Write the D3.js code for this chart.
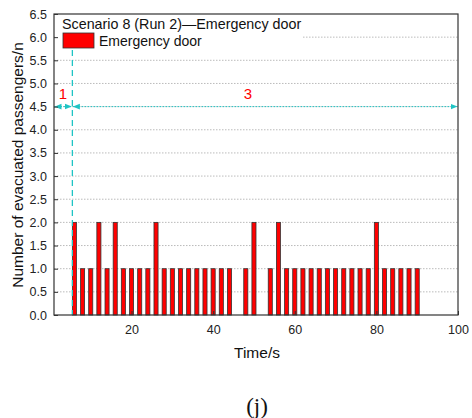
<!DOCTYPE html>
<html><head><meta charset="utf-8">
<script src="https://cdn.jsdelivr.net/npm/d3@7"></script>
<style>body{margin:0;background:#fff}svg{display:block}text{font-family:Arial,"Liberation Sans",sans-serif}</style>
</head><body><svg id="c" width="472" height="418"></svg>
<script>
const times = [6,8,10,12,14,16,18,20,22,24,26,28,30,32,34,36,38,40,42,44,48,50,54,56,58,60,62,64,66,68,70,72,74,76,78,80,82,84,86,88,90];
const counts = [2,1,1,2,1,2,1,1,1,1,2,1,1,1,1,1,1,1,1,1,1,2,1,2,1,1,1,1,1,1,1,1,1,1,1,2,1,1,1,1,1];
const xTicks = [20,40,60,80,100];
const yTicks = [0,0.5,1,1.5,2,2.5,3,3.5,4,4.5,5,5.5,6,6.5];
const phaseSplit = 5.5;   // vertical dashed divider (Time/s)
const phaseLevel = 4.5;   // horizontal arrow level
const phaseLabels = ["1","3"];

const svg = d3.select("#c");
const L=54,R=458,T=14,B=315;
const x = d3.scaleLinear().domain([1,100]).range([L,R]);
const y = d3.scaleLinear().domain([0,6.5]).range([B,T]);

// grid
svg.append("g").selectAll("line").data(yTicks.filter(d=>d>0&&d<6.5)).join("line")
  .attr("x1",L).attr("x2",R).attr("y1",d=>y(d)).attr("y2",d=>y(d))
  .attr("stroke","#aaa").attr("stroke-width",0.8).attr("stroke-dasharray","1.5,1.5");

// bars
const bw = x(2)-x(1);
svg.append("g").selectAll("rect").data(times).join("rect")
  .attr("x",(d)=>x(d)-bw/2).attr("width",bw)
  .attr("y",(d,i)=>y(counts[i])).attr("height",(d,i)=>y(0)-y(counts[i]))
  .attr("fill","#ff0000").attr("stroke","#333").attr("stroke-width",0.8);

// legend background
svg.append("rect").attr("x",L+1).attr("y",T+1).attr("width",302-L).attr("height",34).attr("fill","#fff");
svg.append("text").attr("x",62).attr("y",29).attr("font-size",14.3).attr("fill","#111").text("Scenario 8 (Run 2)\u2014Emergency door");
svg.append("rect").attr("x",63).attr("y",33).attr("width",31).attr("height",15).attr("fill","#ff0000").attr("stroke","#333").attr("stroke-width",0.8);
svg.append("text").attr("x",99).attr("y",46).attr("font-size",14).attr("fill","#111").text("Emergency door");

// cyan annotations
const cy = "#1fc4c4";
const defs = svg.append("defs");
defs.append("marker").attr("id","ah").attr("viewBox","0 0 10 10").attr("refX",10).attr("refY",5)
  .attr("markerWidth",7).attr("markerHeight",7).attr("orient","auto-start-reverse")
  .append("path").attr("d","M0,1 L10,5 L0,9 Z").attr("fill",cy);
svg.append("line").attr("x1",x(phaseSplit)).attr("x2",x(phaseSplit)).attr("y1",50).attr("y2",B)
  .attr("stroke",cy).attr("stroke-width",1.3).attr("stroke-dasharray","6,4");
const segs = [[1,phaseSplit],[phaseSplit,100]];
svg.append("g").selectAll("line").data(segs).join("line")
  .attr("x1",d=>x(d[0])+0.5).attr("x2",d=>x(d[1])-0.5).attr("y1",y(phaseLevel)).attr("y2",y(phaseLevel))
  .attr("stroke",cy).attr("stroke-width",1).attr("stroke-dasharray","1.5,1.5")
  .attr("marker-start","url(#ah)").attr("marker-end","url(#ah)");
svg.append("g").selectAll("text").data(segs).join("text")
  .attr("x",(d,i)=> i===0 ? x(d[0])+9 : x(d[0])+0.455*(x(d[1])-x(d[0])))
  .attr("y",y(phaseLevel)-8)
  .attr("text-anchor","middle").attr("font-size",15).attr("fill","#ff0000")
  .text((d,i)=>phaseLabels[i]);

// axes
const xa = svg.append("g").attr("transform",`translate(0,${B})`)
  .call(d3.axisBottom(x).tickValues(xTicks).tickSize(-4).tickPadding(10));
const ya = svg.append("g").attr("transform",`translate(${L},0)`)
  .call(d3.axisLeft(y).tickValues(yTicks).tickSize(-4).tickPadding(7).tickFormat(d3.format(".1f")));
[xa,ya].forEach(a=>{a.select(".domain").remove();a.selectAll("line").attr("stroke","#333");
  a.selectAll("text").attr("font-size",12.5).attr("fill","#222").style("font-family","Arial,'Liberation Sans',sans-serif");});
svg.append("rect").attr("x",L).attr("y",T).attr("width",R-L).attr("height",B-T)
  .attr("fill","none").attr("stroke","#333").attr("stroke-width",1.2);

svg.append("text").attr("x",257).attr("y",358).attr("text-anchor","middle").attr("font-size",15.5).attr("fill","#111").text("Time/s");
svg.append("text").attr("transform","translate(23,165) rotate(-90)").attr("text-anchor","middle").attr("font-size",15.5).attr("fill","#111").text("Number of evacuated passengers/n");
svg.append("text").attr("x",257).attr("y",414).attr("text-anchor","middle").attr("font-size",23)
  .style("font-family","'Liberation Serif','Times New Roman',serif").attr("fill","#111").text("(j)");
</script></body></html>
